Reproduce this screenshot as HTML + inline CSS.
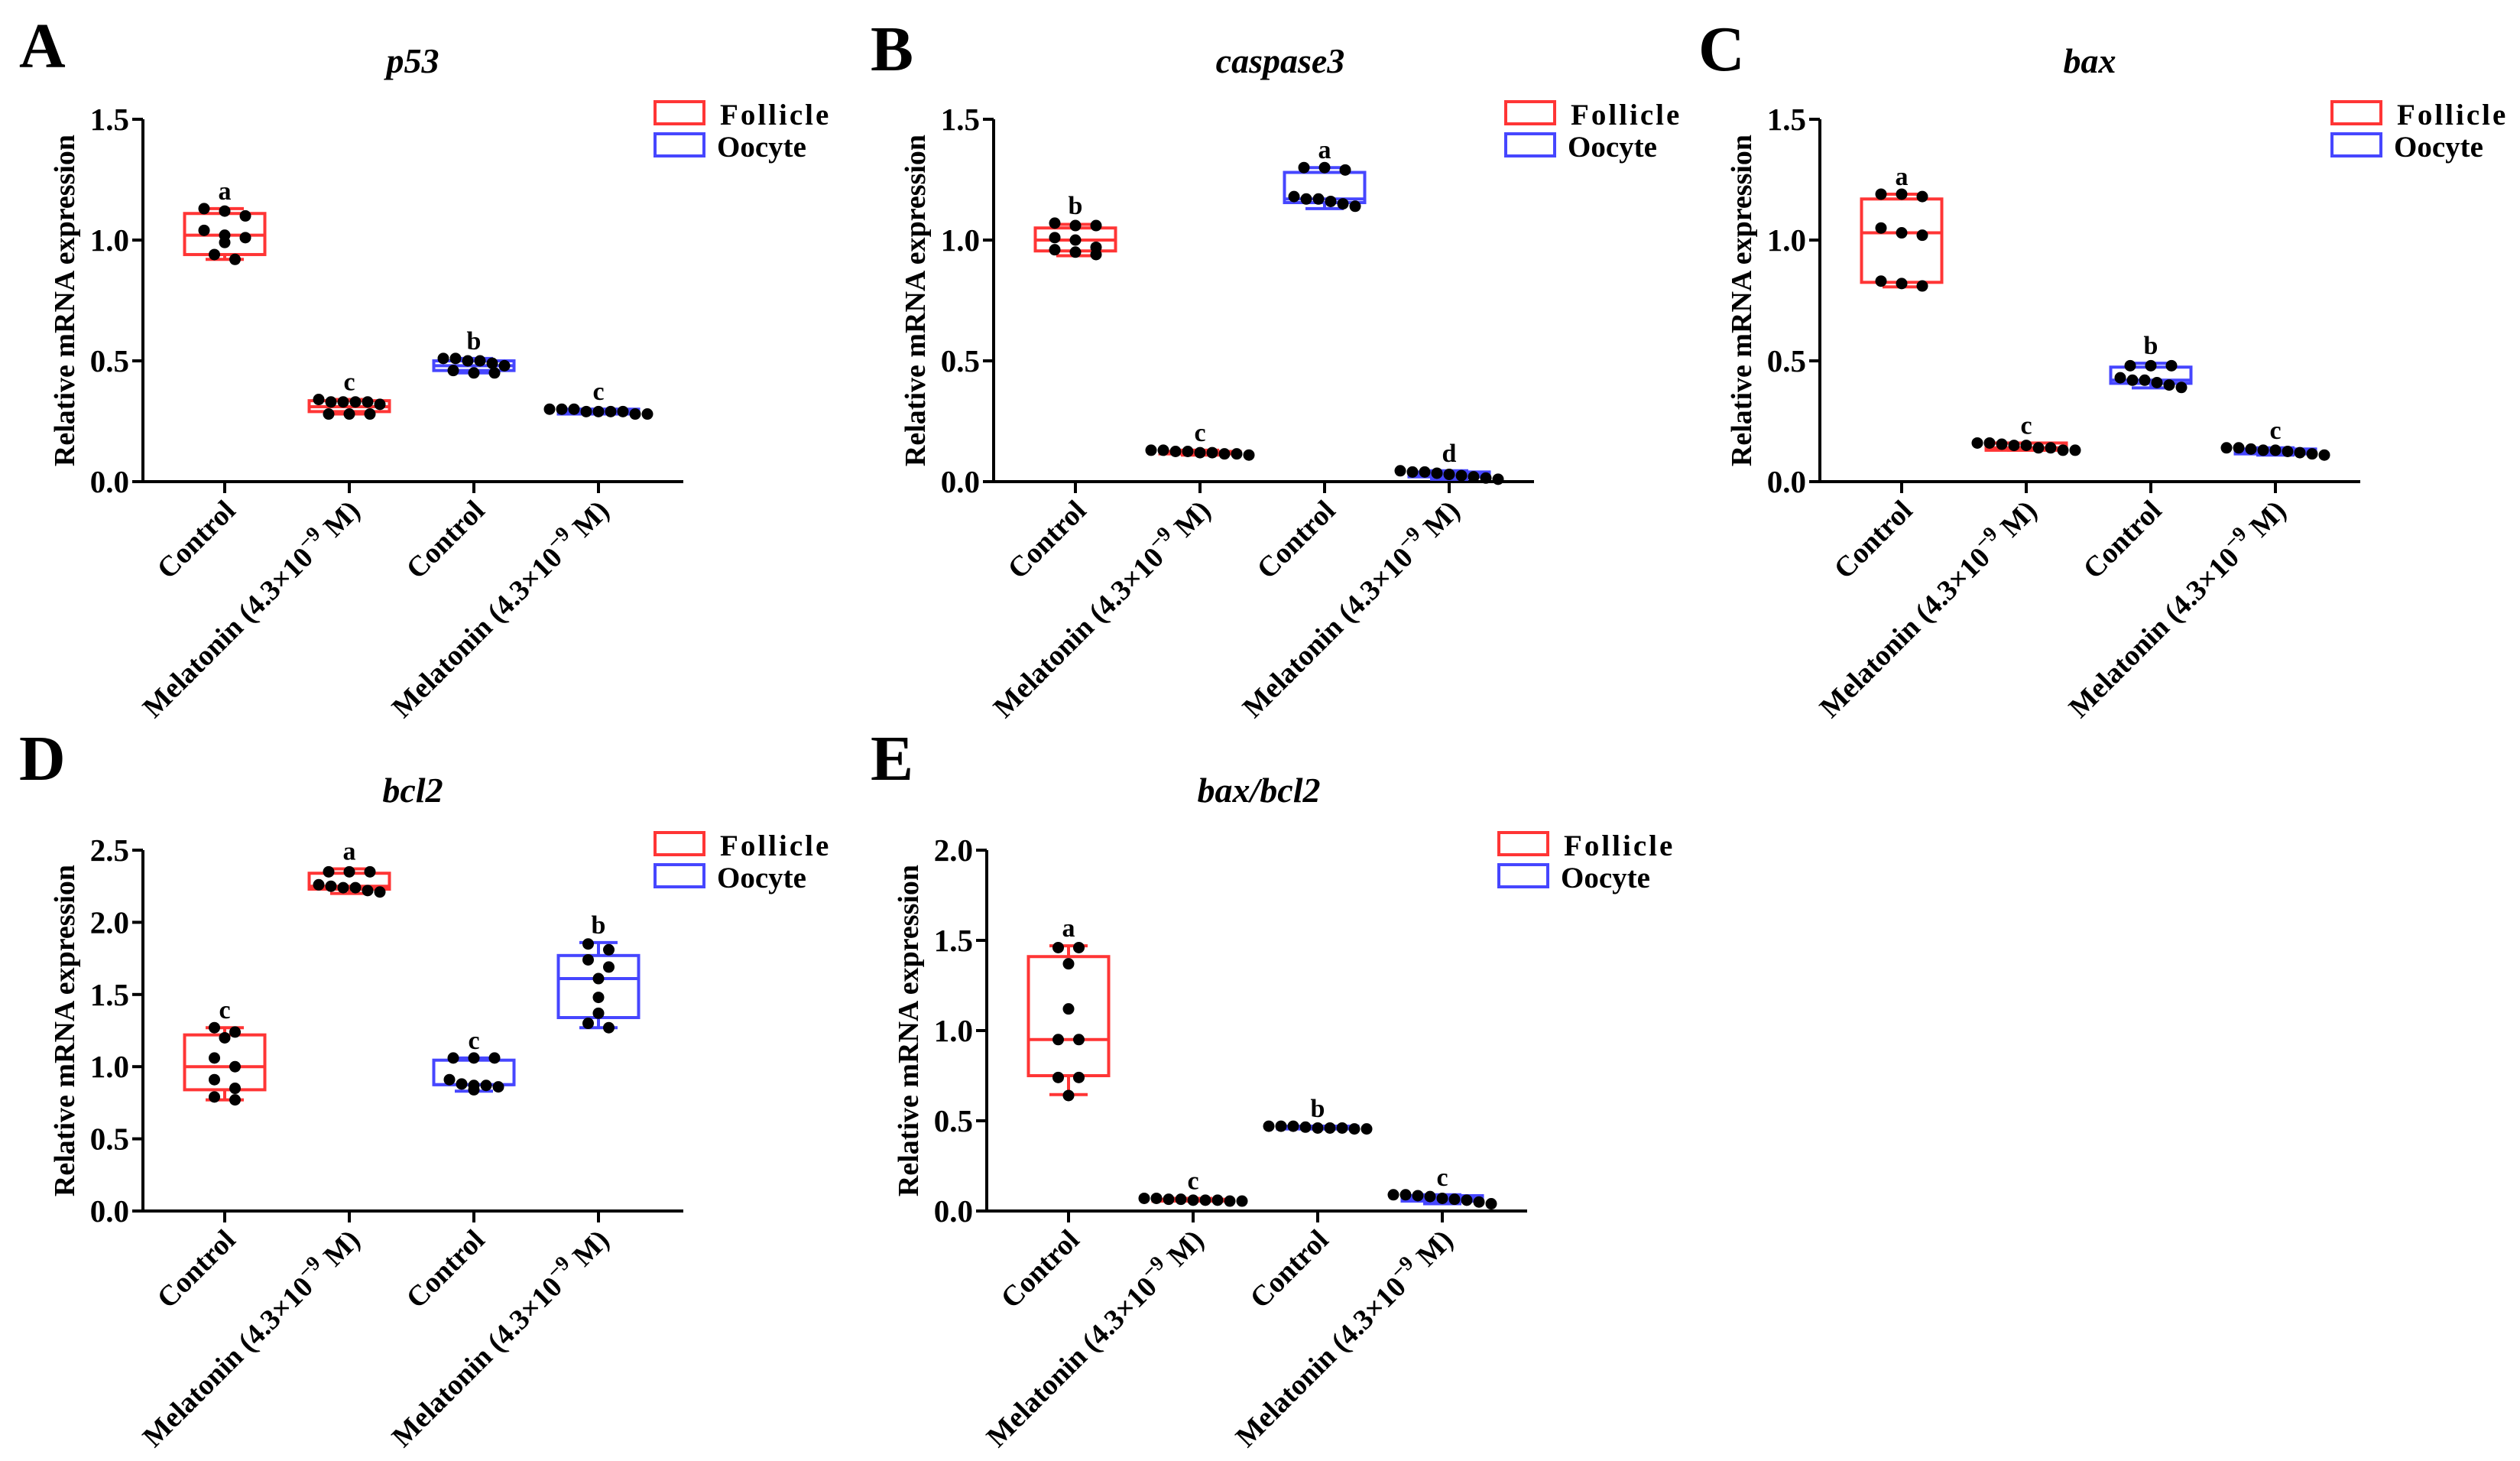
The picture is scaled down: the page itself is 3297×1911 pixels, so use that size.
<!DOCTYPE html>
<html><head><meta charset="utf-8"><style>
html,body{margin:0;padding:0;background:#fff;}
svg{display:block;font-family:"Liberation Serif",serif;font-weight:bold;}
</style></head><body>
<svg id="fig" width="3297" height="1911" viewBox="0 0 3297 1911" xmlns="http://www.w3.org/2000/svg"></svg>
<script>
const categories = ["Control", "Melatonin", "Control", "Melatonin"];
const groupSeries = ["Follicle", "Follicle", "Oocyte", "Oocyte"];
const panelNames = ["A", "B", "C", "D", "E"];
const titles = ["p53", "caspase3", "bax", "bcl2", "bax/bcl2"];
const yMaxes = [1.5, 1.5, 1.5, 2.5, 2.0];
const yTickLabelsA = ["0.0", "0.5", "1.0", "1.5"];
const yTickLabelsD = ["0.0", "0.5", "1.0", "1.5", "2.0", "2.5"];
const yTickLabelsE = ["0.0", "0.5", "1.0", "1.5", "2.0"];
const letters = ["a", "c", "b", "c", "b", "c", "a", "d", "a", "c", "b", "c", "c", "a", "c", "b", "a", "c", "b", "c"];
// box stats per panel: [q1, median, q3, min, max] for each group
const boxA = [[0.94,1.02,1.11,0.92,1.13],[0.29,0.31,0.335,0.28,0.34],[0.46,0.48,0.50,0.45,0.51],[0.28,0.29,0.30,0.28,0.30]];
const boxB = [[0.955,1.0,1.05,0.935,1.065],[0.115,0.12,0.125,0.11,0.13],[1.155,1.17,1.28,1.13,1.30],[0.02,0.03,0.04,0.01,0.045]];
const boxC = [[0.825,1.03,1.17,0.806,1.19],[0.13,0.14,0.16,0.13,0.16],[0.407,0.42,0.474,0.388,0.49],[0.115,0.125,0.135,0.11,0.14]];
const boxD = [[0.84,1.0,1.22,0.77,1.27],[2.23,2.25,2.34,2.20,2.37],[0.875,0.875,1.045,0.83,1.06],[1.34,1.61,1.77,1.27,1.86]];
const boxE = [[0.75,0.95,1.41,0.645,1.47],[0.055,0.06,0.065,0.055,0.07],[0.455,0.46,0.47,0.455,0.47],[0.055,0.07,0.085,0.04,0.09]];
const ptsA = [[1.13,1.12,1.10,1.04,1.02,1.01,0.99,0.94,0.92],[0.34,0.33,0.33,0.33,0.33,0.32,0.28,0.28,0.28],[0.51,0.51,0.50,0.50,0.49,0.48,0.46,0.45,0.45],[0.30,0.30,0.30,0.29,0.29,0.29,0.29,0.28,0.28]];
const ptsB = [[1.07,1.06,1.06,1.01,1.0,0.97,0.96,0.95,0.94],[0.13,0.13,0.125,0.125,0.12,0.12,0.115,0.115,0.11],[1.30,1.30,1.29,1.18,1.17,1.17,1.16,1.15,1.14],[0.045,0.04,0.04,0.035,0.03,0.025,0.02,0.015,0.01]];
const ptsC = [[1.19,1.19,1.18,1.05,1.03,1.02,0.83,0.82,0.81],[0.16,0.16,0.155,0.15,0.15,0.14,0.14,0.13,0.13],[0.48,0.48,0.48,0.43,0.42,0.42,0.41,0.40,0.39],[0.14,0.14,0.135,0.13,0.13,0.125,0.12,0.115,0.11]];
const ptsD = [[1.27,1.24,1.20,1.06,1.0,0.91,0.85,0.79,0.77],[2.35,2.35,2.35,2.26,2.25,2.24,2.24,2.22,2.21],[1.06,1.06,1.06,0.91,0.88,0.87,0.87,0.86,0.84],[1.85,1.81,1.74,1.69,1.61,1.48,1.37,1.30,1.27]];
const ptsE = [[1.46,1.46,1.37,1.12,0.95,0.95,0.74,0.74,0.64],[0.07,0.07,0.065,0.065,0.06,0.06,0.06,0.055,0.055],[0.47,0.47,0.47,0.465,0.46,0.46,0.46,0.455,0.455],[0.09,0.09,0.085,0.08,0.07,0.065,0.06,0.05,0.04]];

const layout = [
 {x0:187,y0:630,yTop:156,tx:540,ty:95,lx:25,ly:88},
 {x0:1300,y0:630,yTop:156,tx:1675,ty:95,lx:1139,ly:92},
 {x0:2381,y0:630,yTop:156,tx:2734,ty:95,lx:2222,ly:92},
 {x0:187,y0:1584,yTop:1112,tx:540,ty:1049,lx:25,ly:1020},
 {x0:1291,y0:1584,yTop:1112,tx:1647,ty:1049,lx:1139,ly:1020}
];
const boxes=[boxA,boxB,boxC,boxD,boxE];
const pts=[ptsA,ptsB,ptsC,ptsD,ptsE];
const tickSets=[yTickLabelsA,yTickLabelsA,yTickLabelsA,yTickLabelsD,yTickLabelsE];
const colors={Follicle:"#ff3535",Oocyte:"#4646ff"};
const NS="http://www.w3.org/2000/svg";
const svg=document.getElementById("fig");
function mk(tag,attrs,parent){const e=document.createElementNS(NS,tag);for(const k in attrs)e.setAttribute(k,attrs[k]);(parent||svg).appendChild(e);return e;}

panelNames.forEach((pn,p)=>{
  const L=layout[p];
  const g=mk("g",{});
  
  
  const yScale=v=>L.y0-(v/yMaxes[p])*(L.y0-L.yTop);
  const xCat=i=>L.x0+107+163*i;
  const xEnd=L.x0+707;
  const lt=mk("text",{x:L.lx,y:L.ly,"font-size":84},g);lt.textContent=pn;
  
  
  const tt=mk("text",{x:L.tx,y:L.ty,"font-size":46,"font-style":"italic","text-anchor":"middle"},g);tt.textContent=titles[p];
  
  
  const yl=mk("text",{x:0,y:0,"font-size":38,"text-anchor":"middle",transform:`translate(${L.x0-90},${(L.y0+L.yTop)/2}) rotate(-90)`},g);yl.textContent="Relative mRNA expression";
  
  
  const ax=mk("path",{d:`M${L.x0},${L.yTop} V${L.y0} H${xEnd}`,stroke:"#000","stroke-width":4,fill:"none"},g);
  
  
  tickSets[p].forEach(lab=>{
    const v=parseFloat(lab);const y=yScale(v);
    const tk=mk("line",{x1:L.x0-14,x2:L.x0,y1:y,y2:y,stroke:"#000","stroke-width":4},g);
    
    
    const tl=mk("text",{x:L.x0-18,y:y+14,"font-size":41,"text-anchor":"end"},g);tl.textContent=lab;
    
    
  });
  categories.forEach((c,i)=>{
    const x=xCat(i);
    const tk=mk("line",{x1:x,x2:x,y1:L.y0,y2:L.y0+15,stroke:"#000","stroke-width":4},g);
    
    
    const t=mk("text",{x:0,y:0,"font-size":38,"text-anchor":"end",transform:`translate(${x+16},${L.y0+40}) rotate(-45)`},g);
    
    
    if(c==="Control"){t.textContent="Control";}
    else{
      t.appendChild(document.createTextNode("Melatonin (4.3×10"));
      const s=mk("tspan",{"font-size":27,dy:-16},t);s.textContent="−9";
      const r=mk("tspan",{dy:16},t);r.textContent=" M)";
    }
    const b=boxes[p][i];const col=colors[groupSeries[i]];
    const bg=mk("g",{stroke:col,"stroke-width":4,fill:"none"},g);
    
    
    const bw=105,cw=50;
    mk("line",{x1:x,x2:x,y1:yScale(b[3]),y2:yScale(b[0])},bg);
    mk("line",{x1:x,x2:x,y1:yScale(b[2]),y2:yScale(b[4])},bg);
    mk("line",{x1:x-cw/2,x2:x+cw/2,y1:yScale(b[3]),y2:yScale(b[3])},bg);
    mk("line",{x1:x-cw/2,x2:x+cw/2,y1:yScale(b[4]),y2:yScale(b[4])},bg);
    mk("rect",{x:x-bw/2,y:yScale(b[2]),width:bw,height:Math.max(1,yScale(b[0])-yScale(b[2]))},bg);
    mk("line",{x1:x-bw/2,x2:x+bw/2,y1:yScale(b[1]),y2:yScale(b[1])},bg);
    const vals=pts[p][i].slice().sort((a,b)=>b-a);
    const bins=[];
    vals.forEach(v=>{const y=yScale(v);const last=bins[bins.length-1];if(last&&Math.abs(y-last.y0)<13){last.ys.push(y);}else bins.push({y0:y,ys:[y]});});
    bins.forEach(bn=>{
      const n=bn.ys.length;
      bn.ys.forEach((y,k)=>{
        const px=x+(k-(n-1)/2)*(n>3?16:27);
        const d=mk("circle",{cx:px,cy:y,r:7.5,fill:"#000"},g);
        
        
      });
    });
    const top=Math.max(b[4],...pts[p][i]);
    const sl=mk("text",{x:x,y:yScale(top)-12,"font-size":34,"text-anchor":"middle"},g);sl.textContent=letters[p*4+i];
    
    
  });
  ["Follicle","Oocyte"].forEach((s,k)=>{
    const yb=L.yTop-23+k*42;
    const r=mk("rect",{x:L.x0+670,y:yb,width:64,height:29,fill:"none",stroke:colors[s],"stroke-width":4},g);
    
    
    const t=mk("text",{x:L.x0+(k?751:755),y:yb+30,"font-size":39,"letter-spacing":k?0:3},g);t.textContent=s;
    
    
  });
});
</script>
</body></html>
